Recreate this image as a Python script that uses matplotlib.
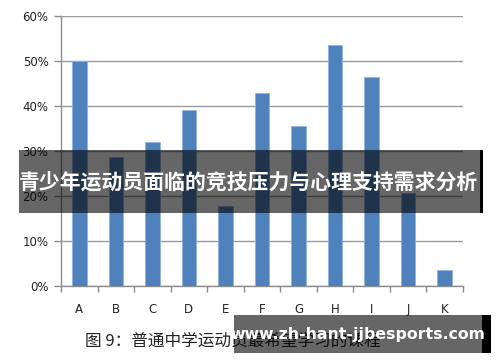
import matplotlib
matplotlib.use('Agg')
import matplotlib.pyplot as plt
from matplotlib.patches import Rectangle
from matplotlib.ticker import FixedLocator, PercentFormatter

# Данные графика
categories = ['A', 'B', 'C', 'D', 'E', 'F', 'G', 'H', 'I', 'J', 'K']
values = [50.0, 28.7, 32.1, 39.1, 17.8, 42.8, 35.6, 53.6, 46.4, 20.7, 3.6]
y_ticks = [0, 10, 20, 30, 40, 50, 60]

banner_text = '青少年运动员面临的竞技压力与心理支持需求分析'
caption_text = '图 9：普通中学运动员最希望学习的课程'
watermark_text = 'www.zh-hant-jjbesports.com'

plt.rcParams['font.family'] = ['Noto Sans CJK SC', 'DejaVu Sans']

W, H = 500, 362
fig = plt.figure(figsize=(W / 100, H / 100), dpi=100)
ax = fig.add_axes([61 / W, 1 - 286 / H, 402 / W, 270 / H])

x = list(range(len(categories)))
ax.bar(x, values, width=0.4, color='#4f81bd', edgecolor='#8db3e2',
       linewidth=0.6, zorder=3)

ax.set_xlim(-0.5, len(categories) - 0.5)
ax.set_ylim(0, 60)
ax.yaxis.set_major_locator(FixedLocator(y_ticks))
ax.yaxis.set_major_formatter(PercentFormatter(decimals=0))
ax.set_xticks(x)
ax.set_xticklabels(categories)
ax.xaxis.set_minor_locator(FixedLocator([i - 0.5 for i in range(len(categories) + 1)]))
ax.tick_params(axis='x', which='major', length=0, pad=12, labelsize=8.5,
               labelcolor='#222222')
ax.tick_params(axis='x', which='minor', length=4, color='#8c8c8c', width=1)
ax.tick_params(axis='y', length=5, color='#8c8c8c', width=1, pad=4,
               labelsize=8.5, labelcolor='#222222')
for lbl in ax.get_xticklabels() + ax.get_yticklabels():
    lbl.set_family('DejaVu Sans')

ax.grid(axis='y', color='#9a9a9a', linewidth=1, zorder=0)
for side in ['top', 'right']:
    ax.spines[side].set_visible(False)
for side in ['left', 'bottom']:
    ax.spines[side].set_color('#8c8c8c')
    ax.spines[side].set_linewidth(1)

# Подпись под графиком
fig.text(85 / W, 1 - 341 / H, caption_text, fontsize=12, color='#222222',
         va='center', ha='left')

# Полупрозрачная плашка с заголовком
fig.patches.append(Rectangle((19 / W, 1 - 213 / H), 461 / W, 63 / H,
                             transform=fig.transFigure, facecolor='black',
                             alpha=0.6, zorder=10))
fig.patches.append(Rectangle((480 / W, 1 - 213 / H), 3 / W, 63 / H,
                             transform=fig.transFigure, facecolor='black',
                             zorder=10))
fig.text(249 / W, 1 - 182 / H, banner_text, fontsize=15, fontweight='bold',
         color='white', ha='center', va='center', zorder=11)

# Водяной знак
fig.patches.append(Rectangle((234 / W, 1 - 353 / H), 248 / W, 38 / H,
                             transform=fig.transFigure, facecolor='black',
                             alpha=0.6, zorder=10))
fig.patches.append(Rectangle((482 / W, 1 - 353 / H), 9 / W, 38 / H,
                             transform=fig.transFigure, facecolor='black',
                             zorder=10))
fig.text(358 / W, 1 - 334 / H, watermark_text, fontsize=11.3, fontweight='bold',
         color='white', ha='center', va='center', zorder=11, family='DejaVu Sans')

fig.savefig('out.png', dpi=100)
plt.close(fig)
